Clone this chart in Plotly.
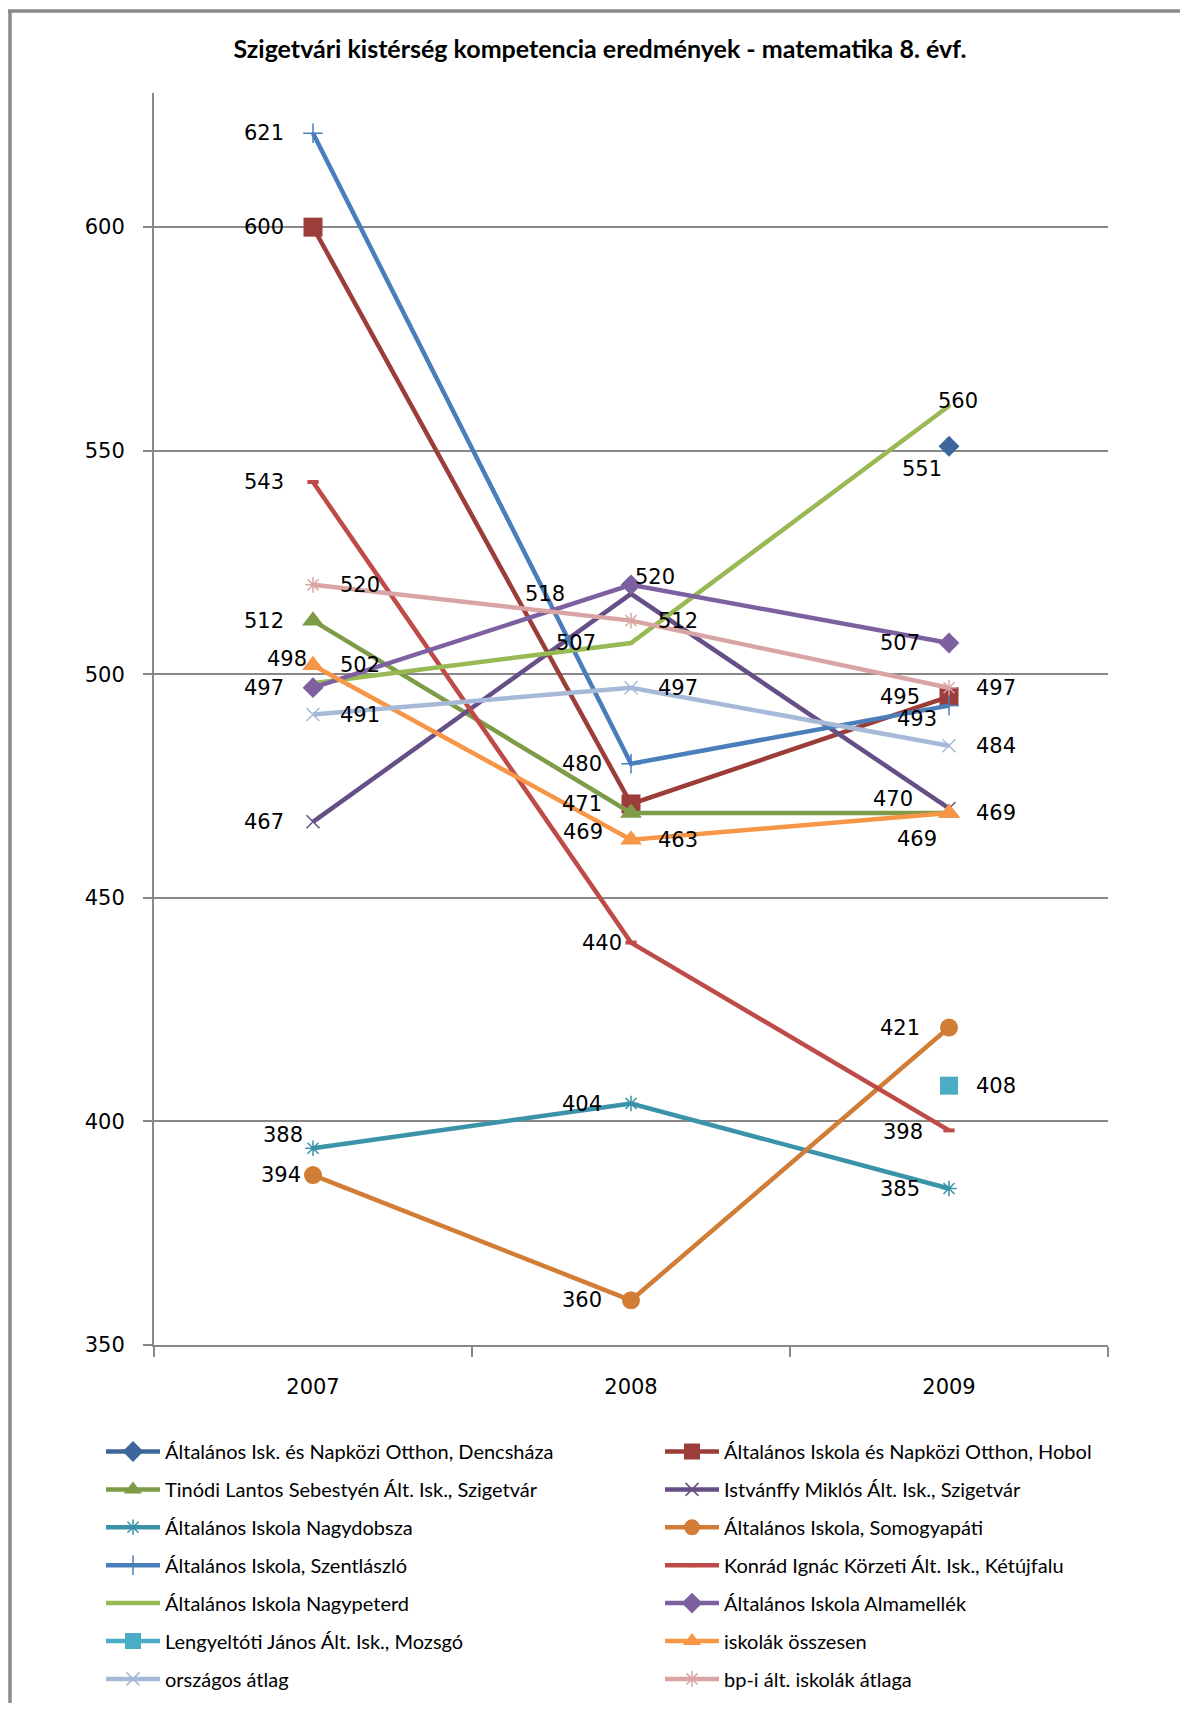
import plotly.graph_objects as go

# ---------------- data ----------------
years = [2007, 2008, 2009]
year_labels = ["2007", "2008", "2009"]

series_names = [
    "Általános Isk. és Napközi Otthon, Dencsháza",
    "Általános Iskola és Napközi Otthon, Hobol",
    "Tinódi Lantos Sebestyén Ált. Isk., Szigetvár",
    "Istvánffy Miklós Ált. Isk., Szigetvár",
    "Általános Iskola Nagydobsza",
    "Általános Iskola, Somogyapáti",
    "Általános Iskola, Szentlászló",
    "Konrád Ignác Körzeti Ált. Isk., Kétújfalu",
    "Általános Iskola Nagypeterd",
    "Általános Iskola Almamellék",
    "Lengyeltóti János Ált. Isk., Mozsgó",
    "iskolák összesen",
    "országos átlag",
    "bp-i ált. iskolák átlaga",
]

dencshaza = [None, None, 551]
hobol = [600, 471, 495]
tinodi = [512, 469, 469]
istvanffy = [467, 518, 470]
nagydobsza = [394, 404, 385]
somogyapati = [388, 360, 421]
szentlaszlo = [621, 480, 493]
konrad = [543, 440, 398]
nagypeterd = [498, 507, 560]
almamellek = [497, 520, 507]
mozsgo = [None, None, 408]
osszesen = [502, 463, 469]
orszagos = [491, 497, 484]
bpi = [520, 512, 497]

series_values = [dencshaza, hobol, tinodi, istvanffy, nagydobsza, somogyapati,
                 szentlaszlo, konrad, nagypeterd, almamellek, mozsgo, osszesen,
                 orszagos, bpi]

# data-label texts as printed on the original chart (two are swapped there)
nagydobsza_labels = [388, 404, 385]
somogyapati_labels = [394, 360, 421]

y_ticks = [350, 400, 450, 500, 550, 600]

# ---------------- styles ----------------
colors = ["#3C679A", "#9C3D3A", "#7E9B48", "#664E86", "#3A93A8", "#D17D36",
          "#4A7EBB", "#BE4B48", "#98B954", "#7D60A0", "#4BACC6", "#F79646",
          "#A7B9D9", "#D9A5A4"]
symbols = ["diamond", "square", "triangle-up", "x-thin-open", "asterisk-open", "circle",
           "cross-thin-open", "line-ew-open", "circle", "diamond", "square", "triangle-up",
           "x-thin-open", "asterisk-open"]
msizes = [16, 19, 19, 13, 13, 18, 14, 8, 4, 16, 18, 19, 13, 13]

L = ("right", -27, 0)
R = ("left", 25, 0)
label_pos = [
    [None, None, ("right", -5, 23)],
    [L, L, L],
    [L, ("right", -26, 19), ("right", -10, 26)],
    [L, ("right", -64, 0), ("right", -34, -9)],
    [("right", -8, -13), L, L],
    [("right", -10, 0), L, L],
    [L, L, ("right", -10, 13)],
    [L, ("right", -7, 0), ("right", -24, 2)],
    [("right", -4, -24), ("right", -33, 0), ("center", 9, -5)],
    [L, ("left", 2, -8), L],
    [None, None, R],
    [R, R, R],
    [R, R, R],
    [R, R, R],
]

# the page adds an 8px body margin; figure is sized so the page fits the window
OFF = 8
W, H = 1172, 1695
ML, MT = 146, 85
MR = W - 1100
MB = H - 1337
PW, PH = W - ML - MR, H - MT - MB


def px_x(page_px):
    return (page_px - OFF - ML) / PW


def px_y(page_py):
    return (H - MB - (page_py - OFF)) / PH


def cy(page_py):
    return 1 - (page_py - OFF) / H


fig = go.Figure()

for i, (name, vals) in enumerate(zip(series_names, series_values)):
    sym = symbols[i]
    thin = sym.endswith("-open")
    fig.add_trace(go.Scatter(
        x=years, y=vals, name=name, mode="lines+markers",
        line=dict(color=colors[i], width=4.5),
        marker=dict(symbol=sym, size=msizes[i], color=colors[i],
                    line=dict(color=colors[i], width=4 if sym == "line-ew-open" else (1.5 if thin else 0))),
        legend="legend" if i % 2 == 0 else "legend2",
        legendgroup="g%d" % i,
        cliponaxis=False,
        hoverinfo="skip",
    ))

    if i == 4:
        texts = nagydobsza_labels
    elif i == 5:
        texts = somogyapati_labels
    else:
        texts = vals
    for j, v in enumerate(vals):
        if v is None or label_pos[i][j] is None:
            continue
        xa, dx, dy = label_pos[i][j]
        fig.add_annotation(
            x=years[j], y=v, xref="x", yref="y", text=str(texts[j]), showarrow=False,
            xanchor=xa, yanchor="middle", xshift=dx, yshift=-dy,
            font=dict(family="DejaVu Sans", size=21, color="#000000"),
        )

# chart-area border (left and top edges visible)
fig.add_shape(type="line", xref="paper", yref="paper",
              x0=px_x(10), x1=px_x(10), y0=px_y(11), y1=px_y(1730),
              line=dict(color="#8a8a8a", width=3.5))
fig.add_shape(type="line", xref="paper", yref="paper",
              x0=px_x(8), x1=px_x(1200), y0=px_y(11), y1=px_y(11),
              line=dict(color="#8a8a8a", width=3.5))

leg_common = dict(xref="paper", yref="container", xanchor="left", yanchor="top",
                  orientation="v", font=dict(family="Lato", size=20, color="#000000"),
                  tracegroupgap=8.9, itemwidth=54, bgcolor="rgba(0,0,0,0)",
                  itemclick=False)

fig.update_layout(
    width=W, height=H, autosize=False,
    margin=dict(l=ML, r=MR, t=MT, b=MB),
    paper_bgcolor="white", plot_bgcolor="white",
    title=dict(text="Szigetvári kistérség kompetencia eredmények - matematika 8. évf.",
               font=dict(family="Lato", size=25, color="#000000", weight="bold"),
               x=(600 - OFF) / W, xref="container", xanchor="center",
               y=cy(49), yref="container", yanchor="middle"),
    xaxis=dict(type="linear", range=[2006.5, 2009.5], tickvals=years, ticktext=year_labels,
               ticks="", showline=True, linecolor="#888888", linewidth=2,
               minor=dict(tick0=2006.5, dtick=1, ticks="outside", ticklen=10,
                          tickwidth=1.5, tickcolor="#888888", showgrid=False),
               showgrid=False, zeroline=False, ticklabelstandoff=22,
               tickfont=dict(family="DejaVu Sans", size=21, color="#000000")),
    yaxis=dict(range=[350, 630], tickvals=y_ticks,
               ticks="outside", ticklen=9, tickwidth=1.5, tickcolor="#888888",
               showline=True, linecolor="#888888", linewidth=2,
               showgrid=True, gridcolor="#888888", gridwidth=1.5, zeroline=False,
               ticklabelstandoff=14,
               tickfont=dict(family="DejaVu Sans", size=21, color="#000000")),
    legend=dict(x=px_x(101), y=cy(1432), **leg_common),
    legend2=dict(x=px_x(660), y=cy(1432), **leg_common),
    showlegend=True,
)

fig.write_html("out.html")
